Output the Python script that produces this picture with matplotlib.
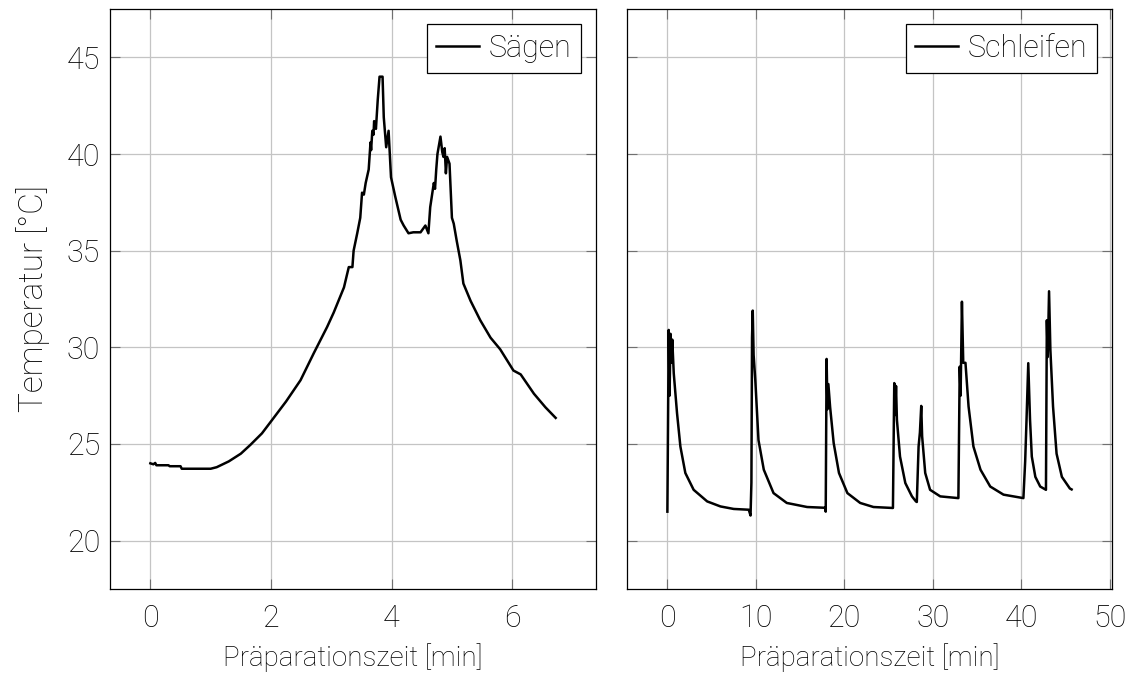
import matplotlib
matplotlib.use("Agg")
import matplotlib.pyplot as plt

# Saegen: time [min], temperature [degC]
t_saegen = [0.0, 0.05, 0.08, 0.1, 0.3, 0.32, 0.5, 0.52, 0.8, 1.0, 1.1, 1.3, 1.5,
            1.66, 1.85, 2.02, 2.25, 2.49, 2.71, 2.93, 3.04, 3.21, 3.29, 3.35,
            3.37, 3.43, 3.48, 3.51, 3.54, 3.57, 3.62, 3.65, 3.66, 3.68, 3.7,
            3.71, 3.74, 3.77, 3.80, 3.85, 3.87, 3.91, 3.95, 3.99, 4.06, 4.15,
            4.2, 4.28, 4.36, 4.48, 4.56, 4.61, 4.64, 4.7, 4.72, 4.74, 4.76,
            4.81, 4.84, 4.86, 4.88, 4.9, 4.92, 4.96, 5.0, 5.03, 5.08, 5.14,
            5.19, 5.31, 5.47, 5.64, 5.8, 6.02, 6.14, 6.36, 6.55, 6.72]
T_saegen = [24.0, 23.95, 24.02, 23.9, 23.9, 23.85, 23.85, 23.72, 23.72, 23.72,
            23.8, 24.1, 24.5, 24.96, 25.55, 26.25, 27.2, 28.3, 29.7, 31.05,
            31.8, 33.1, 34.15, 34.15, 35.0, 35.9, 36.7, 38.0, 37.9, 38.5, 39.2,
            40.6, 40.2, 41.2, 41.0, 41.7, 41.3, 42.8, 44.0, 44.0, 41.9, 40.35,
            41.2, 38.8, 37.8, 36.6, 36.3, 35.9, 35.95, 35.95, 36.3, 35.9, 37.25,
            38.5, 38.2, 39.2, 40.0, 40.9, 40.1, 39.85, 40.3, 39.0, 39.85, 39.5,
            36.7, 36.4, 35.5, 34.5, 33.3, 32.4, 31.4, 30.5, 29.9, 28.8, 28.6,
            27.6, 26.9, 26.35]

# Schleifen: time [min], temperature [degC]
t_schleifen = [0.0, 0.15, 0.25, 0.35, 0.45, 0.55, 0.72, 1.09, 1.47, 2.03, 2.97,
               4.5, 6.0, 7.5, 9.2, 9.4, 9.5, 9.57, 9.65, 9.75, 9.94, 10.3,
               10.9, 12.0, 13.5, 15.8, 17.85, 17.9, 18.0, 18.1, 18.2, 18.4,
               18.8, 19.4, 20.35, 21.8, 23.3, 25.5, 25.65, 25.75, 25.85, 25.95,
               26.3, 26.9, 27.65, 28.1, 28.2, 28.4, 28.55, 28.7, 28.8, 29.15,
               29.7, 30.85, 32.9, 33.05, 33.15, 33.3, 33.45, 33.7, 34.05, 34.6,
               35.4, 36.5, 38.0, 40.25, 40.45, 40.6, 40.8, 41.0, 41.2, 41.6,
               42.15, 42.8, 42.9, 43.0, 43.15, 43.3, 43.6, 44.0, 44.6, 45.5,
               45.7]
T_schleifen = [21.5, 30.9, 27.5, 30.7, 29.2, 30.4, 28.66, 26.6, 24.87, 23.5,
               22.63, 22.03, 21.77, 21.64, 21.6, 21.3, 23.0, 30.5, 31.9, 29.6,
               28.3, 25.2, 23.67, 22.46, 21.95, 21.74, 21.7, 21.5, 29.4, 26.8,
               28.1, 26.9, 25.05, 23.5, 22.46, 21.95, 21.74, 21.69, 28.15,
               26.5, 28.0, 26.25, 24.35, 22.98, 22.29, 22.03, 22.0, 24.87, 25.6,
               26.97, 25.4, 23.5, 22.63, 22.29, 22.2, 29.0, 27.5, 32.36, 29.2,
               29.2, 26.94, 24.87, 23.67, 22.8, 22.38, 22.2, 24.1, 26.2, 29.18,
               26.25, 24.35, 23.3, 22.8, 22.63, 31.4, 29.5, 32.9, 29.87, 26.94,
               24.5, 23.3, 22.7, 22.65]

plt.rcParams["font.family"] = ["Roboto", "DejaVu Sans"]
plt.rcParams["font.weight"] = "light"
plt.rcParams["axes.labelweight"] = "light"

fig = plt.figure(figsize=(11.36, 6.77), dpi=100)
ax1 = fig.add_axes([0.0968, 0.130, 0.4279, 0.8567])
ax2 = fig.add_axes([0.5519, 0.130, 0.4270, 0.8567], sharey=ax1)

panels = [
    (ax1, t_saegen, T_saegen, "Sägen", (-0.67, 7.39), [0, 2, 4, 6]),
    (ax2, t_schleifen, T_schleifen, "Schleifen", (-4.57, 50.27), [0, 10, 20, 30, 40, 50]),
]
for ax, t, T, label, xlim, xticks in panels:
    ax.plot(t, T, color="black", linewidth=1.8, label=label)
    ax.set_xlim(*xlim)
    ax.set_ylim(17.5, 47.5)
    ax.set_xticks(xticks)
    ax.set_yticks([20, 25, 30, 35, 40, 45])
    ax.grid(True, color="#c4c4c4", linewidth=0.9)
    ax.set_axisbelow(True)
    ax.tick_params(direction="in", length=7, width=0.8, color="#707070",
                   top=True, right=True, labelsize=22)
    ax.tick_params(axis="x", pad=11)
    ax.tick_params(axis="y", pad=7)
    for s in ax.spines.values():
        s.set_linewidth(0.9)
    ax.set_xlabel("Präparationszeit [min]", fontsize=20, labelpad=7)
    leg = ax.legend(loc="upper right", frameon=True, fancybox=False,
                    edgecolor="black", framealpha=1, fontsize=22,
                    handlelength=1.4, handletextpad=0.3, borderpad=0.32,
                    borderaxespad=0.5)
    leg.get_frame().set_linewidth(0.9)

ax1.set_ylabel("Temperatur [°C]", fontsize=24, labelpad=12)
ax2.tick_params(labelleft=False)

fig.savefig("out.png", dpi=100)
